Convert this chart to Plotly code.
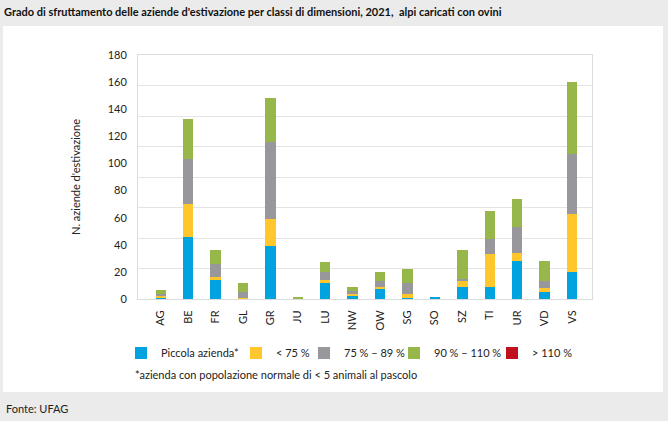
import plotly.graph_objects as go

categories = ["AG", "BE", "FR", "GL", "GR", "JU", "LU", "NW", "OW", "SG", "SO", "SZ", "TI", "UR", "VD", "VS"]
piccola = [1, 46, 14, 0, 39, 0, 12, 2, 8, 1, 1, 9, 9, 28, 5, 20]
sotto75 = [1, 24, 2, 1, 20, 0, 2, 2, 1, 3, 0, 5, 24, 6, 3, 43]
da75a89 = [2, 33, 10, 4, 57, 0, 6, 2, 4, 8, 0, 1, 11, 19, 5, 44]
da90a110 = [3, 30, 10, 7, 32, 1, 7, 3, 7, 10, 0, 21, 21, 21, 15, 53]
oltre110 = [0] * 16

series_names = ["Piccola azienda*", "< 75 %", "75 % – 89 %", "90 % – 110 %", "> 110 %"]
series_values = [piccola, sotto75, da75a89, da90a110, oltre110]
colors = ["#00a3e0", "#ffc72c", "#97979c", "#97b74b", "#c0111f"]

y_ticks = list(range(0, 181, 20))

FONT = "Lato, Roboto, sans-serif"

W, H = 668, 421
L, R, T, B = 138, 76, 55, 122
pw, ph = W - L - R, H - T - B

def px2x(px):
    return (px - L) / pw

def px2y(py):
    return (H - B - py) / ph

# left edge (px) of each legend swatch in the reference
legend_swatch_px = [135, 250, 318, 408, 506]
legend_ids = ["legend", "legend2", "legend3", "legend4", "legend5"]

fig = go.Figure()
for name, vals, col, lid in zip(series_names, series_values, colors, legend_ids):
    fig.add_trace(go.Bar(x=categories, y=vals, name=name, legend=lid,
                         marker=dict(color=col, line=dict(width=0))))

legend_layout = {}
for lid, sx in zip(legend_ids, legend_swatch_px):
    legend_layout[lid] = dict(orientation="h", x=px2x(sx - 14), xanchor="left", y=px2y(353), yanchor="middle",
                              font=dict(size=11), bgcolor="rgba(0,0,0,0)", itemwidth=30)

fig.update_layout(
    width=W, height=H,
    barmode="stack", bargap=0.62,
    paper_bgcolor="#ebebeb", plot_bgcolor="white",
    margin=dict(l=L, r=R, t=T, b=B, autoexpand=False),
    font=dict(family=FONT, size=11, color="#222222"),
    title=dict(text="Grado di sfruttamento delle aziende d'estivazione per classi di dimensioni, 2021,  alpi caricati con ovini",
               x=4 / W, xanchor="left", y=1 - 12 / H, yanchor="middle",
               font=dict(family=FONT, size=11, color="#111111", weight="bold")),
    showlegend=True,
    shapes=[dict(type="rect", xref="paper", yref="paper", layer="below",
                 x0=px2x(3), x1=px2x(663), y0=px2y(392), y1=px2y(26),
                 fillcolor="white", line=dict(width=0))],
    annotations=[
        dict(text="*azienda con popolazione normale di < 5 animali al pascolo",
             xref="paper", yref="paper", x=px2x(133), y=px2y(374), xanchor="left", yanchor="middle",
             showarrow=False, font=dict(size=11)),
        dict(text="Fonte: UFAG", xref="paper", yref="paper", x=px2x(4), y=px2y(408),
             xanchor="left", yanchor="middle", showarrow=False, font=dict(size=11)),
    ],
    **legend_layout,
)

fig.update_xaxes(range=[-0.83, 15.73], tickangle=-90, showgrid=False,
                 showline=True, linecolor="#dcdcdc", linewidth=1, mirror=True,
                 ticks="", tickfont=dict(size=11), ticklabelstandoff=6)
fig.update_yaxes(range=[0, 180], tickmode="array", tickvals=y_ticks, showgrid=False,
                 minor=dict(tick0=0, dtick=22.5, showgrid=True, gridcolor="#e4e4e4", gridwidth=1),
                 zeroline=False, showline=True, linecolor="#dcdcdc", linewidth=1, mirror=True,
                 ticks="", tickfont=dict(size=11), ticklabelstandoff=8,
                 title=dict(text="N. aziende d'estivazione", standoff=24, font=dict(size=11)))

fig.write_html("out.html", config={"displayModeBar": False},
               post_script="document.body.style.margin='0';document.body.style.overflow='hidden';")
